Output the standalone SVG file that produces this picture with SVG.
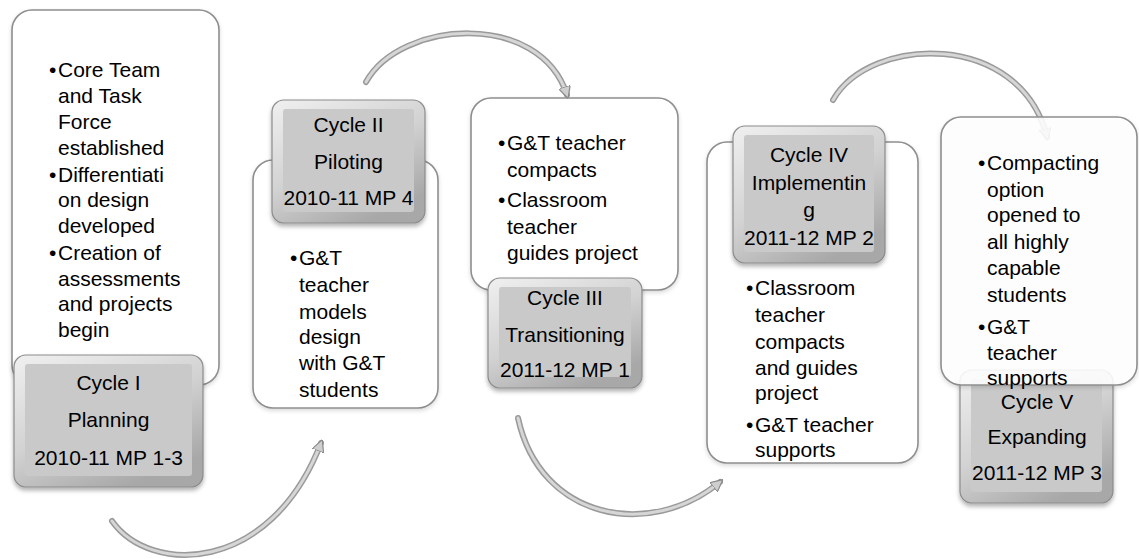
<svg xmlns="http://www.w3.org/2000/svg" width="1139" height="559" viewBox="0 0 1139 559">
<defs>
<style>
text{font-family:"Liberation Sans",Arial,sans-serif;font-size:21px;fill:#000}
.c{text-anchor:middle}
.wbox{fill:#fff;stroke:#8e8e8e;stroke-width:1.6}
.gout{fill:url(#bev);stroke:#8c8c8c;stroke-width:1.2}
.gin{fill:#c9c9c9}
.arcO{fill:none;stroke:#9a9a9a;stroke-width:6;stroke-linecap:round}
.arcI{fill:none;stroke:#d6d6d6;stroke-width:3;stroke-linecap:round}
</style>
<linearGradient id="bev" x1="0" y1="0" x2="0.6" y2="1">
<stop offset="0" stop-color="#f0f0f0"/>
<stop offset="0.55" stop-color="#d2d2d2"/>
<stop offset="1" stop-color="#a8a8a8"/>
</linearGradient>
<filter id="sh" x="-10%" y="-10%" width="120%" height="125%">
<feDropShadow dx="0" dy="3" stdDeviation="2" flood-color="#000" flood-opacity="0.3"/>
</filter>
<filter id="shw" x="-10%" y="-10%" width="120%" height="120%">
<feDropShadow dx="0" dy="2" stdDeviation="2" flood-color="#000" flood-opacity="0.15"/>
</filter>
<marker id="ah" viewBox="0 0 10 10" refX="7" refY="5" markerWidth="12" markerHeight="12" markerUnits="userSpaceOnUse" orient="auto">
<path d="M0,0 L10,5 L0,10 z" fill="#cfcfcf" stroke="#8a8a8a" stroke-width="1"/>
</marker>
</defs>
<rect width="1139" height="559" fill="#fff"/>

<g id="node1">
<rect class="wbox" filter="url(#shw)" x="12" y="10" width="207" height="375" rx="20"/>
<text x="49" y="77">•</text><text x="58" y="77">Core Team</text>
<text x="58" y="103">and Task</text>
<text x="58" y="129">Force</text>
<text x="58" y="155">established</text>
<text x="49" y="182">•</text><text x="58" y="182">Differentiati</text>
<text x="58" y="207">on design</text>
<text x="58" y="233">developed</text>
<text x="49" y="260">•</text><text x="58" y="260">Creation of</text>
<text x="58" y="286">assessments</text>
<text x="58" y="311">and projects</text>
<text x="58" y="337">begin</text>
<rect class="gout" filter="url(#sh)" x="14" y="355" width="189" height="132" rx="12"/>
<rect class="gin" x="25" y="364" width="167" height="112" rx="3"/>
<text class="c" x="108.5" y="390">Cycle I</text>
<text class="c" x="108.5" y="427">Planning</text>
<text class="c" x="108.5" y="465">2010-11 MP 1-3</text>
</g>

<g id="node2">
<rect class="wbox" filter="url(#shw)" x="253" y="160" width="185" height="248" rx="20"/>
<text x="290" y="265">•</text><text x="299" y="265">G&amp;T</text>
<text x="299" y="292">teacher</text>
<text x="299" y="319">models</text>
<text x="299" y="344">design</text>
<text x="299" y="370">with G&amp;T</text>
<text x="299" y="397">students</text>
<rect class="gout" filter="url(#sh)" x="272" y="100" width="153" height="123" rx="12"/>
<rect class="gin" x="283" y="109" width="131" height="103" rx="3"/>
<text class="c" x="348.5" y="132">Cycle II</text>
<text class="c" x="348.5" y="169">Piloting</text>
<text class="c" x="348.5" y="205">2010-11 MP 4</text>
</g>

<g id="node3">
<rect class="wbox" filter="url(#shw)" x="471" y="98" width="207" height="192" rx="20"/>
<text x="498" y="150">•</text><text x="507" y="150">G&amp;T teacher</text>
<text x="507" y="177">compacts</text>
<text x="498" y="207">•</text><text x="507" y="207">Classroom</text>
<text x="507" y="234">teacher</text>
<text x="507" y="260">guides project</text>
<rect class="gout" filter="url(#sh)" x="488" y="278" width="154" height="110" rx="12"/>
<rect class="gin" x="499" y="287" width="132" height="90" rx="3"/>
<text class="c" x="565" y="305">Cycle III</text>
<text class="c" x="565" y="342">Transitioning</text>
<text class="c" x="565" y="377">2011-12 MP 1</text>
</g>

<g id="node4">
<rect class="wbox" filter="url(#shw)" x="707" y="142" width="211" height="321" rx="20"/>
<text x="746" y="295">•</text><text x="755" y="295">Classroom</text>
<text x="755" y="322">teacher</text>
<text x="755" y="349">compacts</text>
<text x="755" y="375">and guides</text>
<text x="755" y="400">project</text>
<text x="746" y="432">•</text><text x="755" y="432">G&amp;T teacher</text>
<text x="755" y="457">supports</text>
<rect class="gout" filter="url(#sh)" x="733" y="126" width="152" height="137" rx="12"/>
<rect class="gin" x="744" y="135" width="130" height="117" rx="3"/>
<text class="c" x="809" y="162">Cycle IV</text>
<text class="c" x="809" y="190">Implementin</text>
<text class="c" x="809" y="217">g</text>
<text class="c" x="809" y="245">2011-12 MP 2</text>
</g>

<g id="connectors">
<path class="arcO" d="M112,521 C150,575 270,575 321,443"/>
<path class="arcI" d="M112,521 C150,575 270,575 321,443" marker-end="url(#ah)"/>
<path class="arcO" d="M366,82 C400,20 540,10 567,95"/>
<path class="arcI" d="M366,82 C400,20 540,10 567,95" marker-end="url(#ah)"/>
<path class="arcO" d="M518,418 C540,520 650,540 720,482"/>
<path class="arcI" d="M518,418 C540,520 650,540 720,482" marker-end="url(#ah)"/>
<path class="arcO" d="M833,100 C870,35 1020,30 1047,137"/>
<path class="arcI" d="M833,100 C870,35 1020,30 1047,137" marker-end="url(#ah)"/>
</g>

<g id="node5">
<rect class="gout" filter="url(#sh)" x="960" y="370" width="153" height="133" rx="12"/>
<rect class="gin" x="971" y="379" width="131" height="113" rx="3"/>
<rect class="wbox" filter="url(#shw)" x="941" y="117" width="196" height="268" rx="20" fill-opacity="0.88"/>
<text x="978" y="170">•</text><text x="987" y="170">Compacting</text>
<text x="987" y="197">option</text>
<text x="987" y="222">opened to</text>
<text x="987" y="249">all highly</text>
<text x="987" y="275">capable</text>
<text x="987" y="302">students</text>
<text x="978" y="334">•</text><text x="987" y="334">G&amp;T</text>
<text x="987" y="360">teacher</text>
<text x="987" y="385">supports</text>
<text class="c" x="1037" y="409">Cycle V</text>
<text class="c" x="1037" y="444">Expanding</text>
<text class="c" x="1037" y="480">2011-12 MP 3</text>
</g>
</svg>
